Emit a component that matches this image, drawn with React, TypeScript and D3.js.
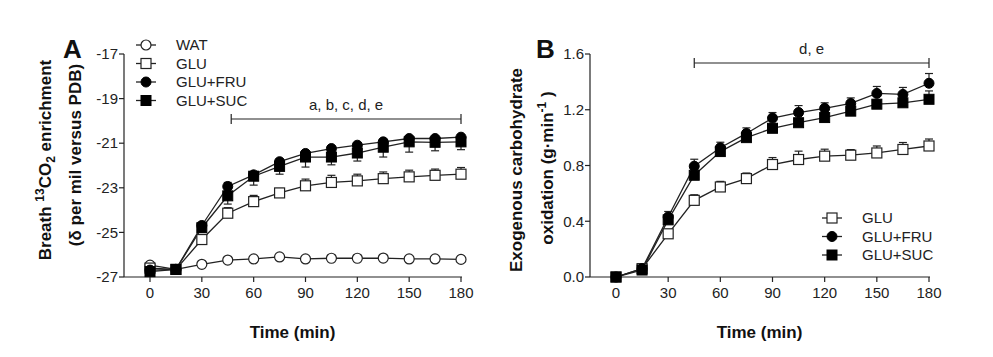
import React from "react";
import * as d3 from "d3";

const times = [0, 15, 30, 45, 60, 75, 90, 105, 120, 135, 150, 165, 180];

// Panel A: breath 13CO2 enrichment
const aWAT = [-26.47, -26.66, -26.43, -26.24, -26.19, -26.1, -26.19, -26.16, -26.16, -26.15, -26.19, -26.19, -26.21];
const aWATerr = [0.08, 0.05, 0.06, 0.06, 0.06, 0.06, 0.06, 0.06, 0.06, 0.06, 0.06, 0.06, 0.06];
const aGLU = [-26.6, -26.66, -25.32, -24.14, -23.62, -23.23, -22.91, -22.76, -22.69, -22.59, -22.51, -22.44, -22.39];
const aGLUerr = [0.05, 0.05, 0.2, 0.25, 0.28, 0.2, 0.3, 0.32, 0.3, 0.3, 0.3, 0.28, 0.3];
const aFRU = [-26.69, -26.66, -24.69, -22.94, -22.42, -21.83, -21.46, -21.24, -21.09, -20.94, -20.79, -20.79, -20.73];
const aFRUerr = [0.05, 0.05, 0.15, 0.18, 0.15, 0.12, 0.12, 0.1, 0.1, 0.1, 0.1, 0.1, 0.1];
const aSUC = [-26.76, -26.66, -24.79, -23.36, -22.48, -22.04, -21.62, -21.62, -21.44, -21.18, -20.94, -20.96, -20.94];
const aSUCerr = [0.05, 0.05, 0.2, 0.37, 0.4, 0.35, 0.45, 0.35, 0.36, 0.44, 0.46, 0.38, 0.35];

// Panel B: exogenous carbohydrate oxidation
const bGLU = [0, 0.06, 0.31, 0.55, 0.646, 0.706, 0.807, 0.843, 0.867, 0.874, 0.89, 0.915, 0.94];
const bGLUerr = [0, 0.01, 0.03, 0.04, 0.04, 0.04, 0.05, 0.06, 0.05, 0.04, 0.05, 0.05, 0.05];
const bFRU = [0, 0.06, 0.43, 0.795, 0.927, 1.03, 1.14, 1.18, 1.21, 1.245, 1.317, 1.31, 1.39];
const bFRUerr = [0, 0.01, 0.04, 0.05, 0.04, 0.04, 0.04, 0.05, 0.04, 0.04, 0.05, 0.05, 0.07];
const bSUC = [0, 0.05, 0.41, 0.73, 0.9, 1.0, 1.067, 1.107, 1.144, 1.19, 1.24, 1.25, 1.275];
const bSUCerr = [0, 0.01, 0.03, 0.04, 0.03, 0.03, 0.03, 0.03, 0.03, 0.04, 0.03, 0.03, 0.06];

const xTicks = [0, 30, 60, 90, 120, 150, 180];
const aYTicks = [-27, -25, -23, -21, -19, -17];
const bYTicks = [0, 0.4, 0.8, 1.2, 1.6];

const legendA = ["WAT", "GLU", "GLU+FRU", "GLU+SUC"];
const legendB = ["GLU", "GLU+FRU", "GLU+SUC"];

type Shape = "openCircle" | "openSquare" | "circle" | "square";

const FONT = "'Liberation Sans', Arial, sans-serif";
const INK = "#222";
const TICK_FS = 15;
const TITLE_FS = 17;

function Marker({ x, y, shape }: { x: number; y: number; shape: Shape }) {
  if (shape === "openCircle") return <circle cx={x} cy={y} r={5} fill="#fff" stroke={INK} strokeWidth={1.2} />;
  if (shape === "circle") return <circle cx={x} cy={y} r={5} fill="#000" stroke="#000" strokeWidth={1} />;
  if (shape === "openSquare") return <rect x={x - 5} y={y - 5} width={10} height={10} fill="#fff" stroke={INK} strokeWidth={1.2} />;
  return <rect x={x - 5} y={y - 5} width={10} height={10} fill="#000" stroke="#000" />;
}

type Series = { values: number[]; err: number[]; dir: 1 | -1; shape: Shape };

function Panel({
  x0, x1, yTop, yBot, domain, yTicks, fmt, series, order,
}: {
  x0: number; x1: number; yTop: number; yBot: number; domain: [number, number];
  yTicks: number[]; fmt: (v: number) => string; series: Series[]; order: number[];
}) {
  const xs = d3.scaleLinear().domain([0, 180]).range([x0, x1]);
  const ys = d3.scaleLinear().domain(domain).range([yBot, yTop]);
  const axisX = x0 - 26;
  const line = d3.line<number>().x((_, i) => xs(times[i])).y((v) => ys(v));
  return (
    <g>
      <line x1={axisX} x2={axisX} y1={yTop} y2={yBot} stroke={INK} strokeWidth={1.2} />
      <line x1={axisX} x2={x1 + 1} y1={yBot} y2={yBot} stroke={INK} strokeWidth={1.2} />
      {yTicks.map((t) => (
        <g key={t}>
          <line x1={axisX - 5} x2={axisX} y1={ys(t)} y2={ys(t)} stroke={INK} strokeWidth={1.2} />
          <text x={axisX - 6} y={ys(t)} dy="0.35em" textAnchor="end" fontSize={TICK_FS} fontFamily={FONT} fill={INK}>
            {fmt(t)}
          </text>
        </g>
      ))}
      {xTicks.map((t) => (
        <g key={t}>
          <line x1={xs(t)} x2={xs(t)} y1={yBot} y2={yBot + 5} stroke={INK} strokeWidth={1.2} />
          <text x={xs(t)} y={yBot + 21} textAnchor="middle" fontSize={TICK_FS} fontFamily={FONT} fill={INK}>
            {t}
          </text>
        </g>
      ))}
      <text x={(axisX + x1) / 2} y={yBot + 61} textAnchor="middle" fontSize={TITLE_FS} fontWeight="bold" fontFamily={FONT} fill="#111">
        Time (min)
      </text>
      {order.map((si) => {
        const s = series[si];
        return (
          <g key={si}>
            <path d={line(s.values) || ""} fill="none" stroke={INK} strokeWidth={1.3} />
            {s.values.map((v, i) => {
              const e = s.err[i];
              if (!e) return null;
              const yy = ys(v + s.dir * e);
              const xx = xs(times[i]);
              return (
                <g key={i}>
                  <line x1={xx} x2={xx} y1={ys(v)} y2={yy} stroke={INK} strokeWidth={1.2} />
                  <line x1={xx - 4} x2={xx + 4} y1={yy} y2={yy} stroke={INK} strokeWidth={1.2} />
                </g>
              );
            })}
          </g>
        );
      })}
      {order.map((si) => {
        const s = series[si];
        return (
          <g key={"m" + si}>
            {s.values.map((v, i) => (
              <Marker key={i} x={xs(times[i])} y={ys(v)} shape={s.shape} />
            ))}
          </g>
        );
      })}
    </g>
  );
}

function Legend({ x, y, step, labels, shapes }: { x: number; y: number; step: number; labels: string[]; shapes: Shape[] }) {
  return (
    <g>
      {labels.map((l, i) => (
        <g key={l}>
          <line x1={x - 10} x2={x + 10} y1={y + i * step} y2={y + i * step} stroke={INK} strokeWidth={1.3} />
          <Marker x={x} y={y + i * step} shape={shapes[i]} />
          <text x={x + 30} y={y + i * step} dy="0.35em" fontSize={TICK_FS} fontFamily={FONT} fill={INK}>
            {l}
          </text>
        </g>
      ))}
    </g>
  );
}

function SigBar({ x0, x1, y, label }: { x0: number; x1: number; y: number; label: string }) {
  return (
    <g>
      <line x1={x0} x2={x1} y1={y} y2={y} stroke={INK} strokeWidth={1.2} />
      <line x1={x0} x2={x0} y1={y - 5} y2={y + 5} stroke={INK} strokeWidth={1.2} />
      <line x1={x1} x2={x1} y1={y - 5} y2={y + 5} stroke={INK} strokeWidth={1.2} />
      <text x={(x0 + x1) / 2} y={y - 9} textAnchor="middle" fontSize={TICK_FS} fontFamily={FONT} fill={INK}>
        {label}
      </text>
    </g>
  );
}

export default function App() {
  const W = 993, H = 357;
  const aSeries: Series[] = [
    { values: aWAT, err: aWATerr, dir: 1, shape: "openCircle" },
    { values: aGLU, err: aGLUerr, dir: 1, shape: "openSquare" },
    { values: aFRU, err: aFRUerr, dir: 1, shape: "circle" },
    { values: aSUC, err: aSUCerr, dir: -1, shape: "square" },
  ];
  const bSeries: Series[] = [
    { values: bGLU, err: bGLUerr, dir: 1, shape: "openSquare" },
    { values: bFRU, err: bFRUerr, dir: 1, shape: "circle" },
    { values: bSUC, err: bSUCerr, dir: 1, shape: "square" },
  ];
  const yTop = 54, yBot = 277;
  const xaA = d3.scaleLinear().domain([0, 180]).range([150, 461]);
  const xaB = d3.scaleLinear().domain([0, 180]).range([616, 929]);
  return (
    <svg width={W} height={H} style={{ position: "absolute", left: 0, top: 0, background: "#fff" }}>
      <rect width={W} height={H} fill="#fff" />
      {/* Panel A */}
      <text x={63} y={58} fontSize={26} fontWeight="bold" fontFamily={FONT} fill="#111">A</text>
      <g transform="translate(51,160) rotate(-90)">
        <text textAnchor="middle" fontSize={TITLE_FS} fontWeight="bold" fontFamily={FONT} fill="#111">
          Breath <tspan fontSize={12} dy={-7}>13</tspan>
          <tspan dy={7}>CO</tspan>
          <tspan fontSize={12} dy={4}>2</tspan>
          <tspan dy={-4}> enrichment</tspan>
        </text>
      </g>
      <g transform="translate(81,155) rotate(-90)">
        <text textAnchor="middle" fontSize={TITLE_FS} fontWeight="bold" fontFamily={FONT} fill="#111">
          (δ per mil versus PDB)
        </text>
      </g>
      <Panel x0={150} x1={461} yTop={yTop} yBot={yBot} domain={[-27, -17]} yTicks={aYTicks}
        fmt={(v) => String(v)} series={aSeries} order={[0, 1, 3, 2]} />
      <Legend x={146} y={45} step={18.5} labels={legendA} shapes={["openCircle", "openSquare", "circle", "square"]} />
      <SigBar x0={xaA(47)} x1={xaA(180)} y={119} label="a, b, c, d, e" />

      {/* Panel B */}
      <text x={536} y={58} fontSize={26} fontWeight="bold" fontFamily={FONT} fill="#111">B</text>
      <g transform="translate(522,170) rotate(-90)">
        <text textAnchor="middle" fontSize={TITLE_FS} fontWeight="bold" fontFamily={FONT} fill="#111">
          Exogenous carbohydrate
        </text>
      </g>
      <g transform="translate(553,168) rotate(-90)">
        <text textAnchor="middle" fontSize={TITLE_FS} fontWeight="bold" fontFamily={FONT} fill="#111">
          oxidation (g·min<tspan fontSize={12} dy={-7}>-1</tspan>
          <tspan dy={7}> )</tspan>
        </text>
      </g>
      <Panel x0={616} x1={929} yTop={yTop} yBot={yBot} domain={[0, 1.6]} yTicks={bYTicks}
        fmt={(v) => v.toFixed(1)} series={bSeries} order={[0, 2, 1]} />
      <Legend x={832} y={218} step={18.5} labels={legendB} shapes={["openSquare", "circle", "square"]} />
      <SigBar x0={xaB(45)} x1={xaB(180)} y={63} label="d, e" />
    </svg>
  );
}
